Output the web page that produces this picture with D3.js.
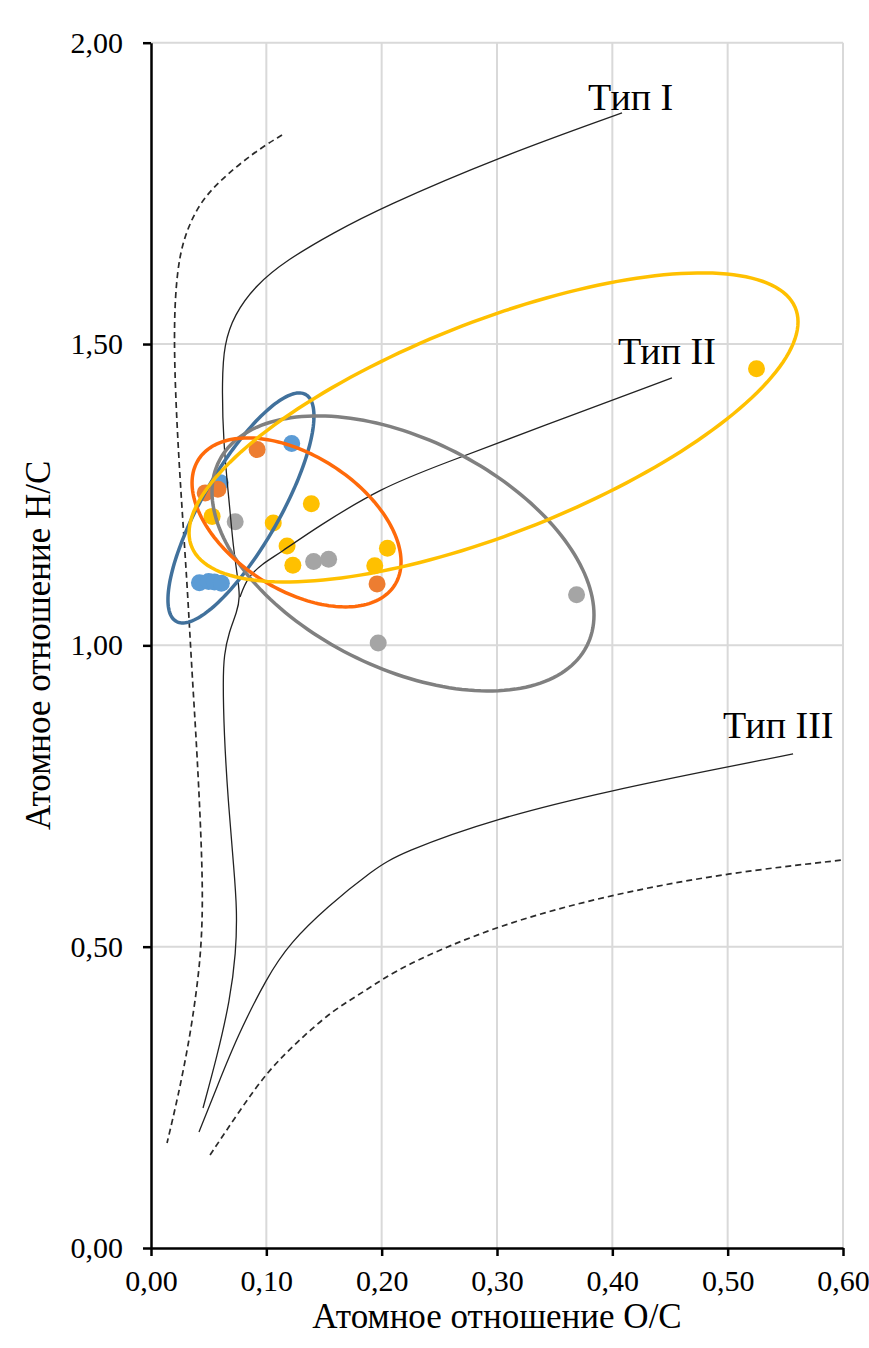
<!DOCTYPE html>
<html>
<head>
<meta charset="utf-8">
<script src="https://cdn.jsdelivr.net/npm/d3@7"></script>
<style>
  body { margin: 0; background: #fff; }
  text { font-family: "Liberation Serif", "Times New Roman", serif; fill: #000; }
</style>
</head>
<body>
<div id="chart"></div>
<script>
// axis ticks
var xTicks = [0, 0.1, 0.2, 0.3, 0.4, 0.5, 0.6];
var xTickLabels = ["0,00", "0,10", "0,20", "0,30", "0,40", "0,50", "0,60"];
var yTicks = [0, 0.5, 1, 1.5, 2];
var yTickLabels = ["0,00", "0,50", "1,00", "1,50", "2,00"];

// samples: O/C and H/C
var blueOC = [0.122, 0.060, 0.042, 0.050, 0.055, 0.061];
var blueHC = [1.335, 1.270, 1.104, 1.106, 1.105, 1.103];
var orangeOC = [0.092, 0.047, 0.058, 0.196];
var orangeHC = [1.325, 1.253, 1.259, 1.102];
var grayOC = [0.073, 0.141, 0.154, 0.197, 0.369];
var grayHC = [1.205, 1.139, 1.143, 1.004, 1.084];
var yellowOC = [0.053, 0.106, 0.118, 0.123, 0.139, 0.194, 0.205, 0.525];
var yellowHC = [1.214, 1.203, 1.165, 1.133, 1.235, 1.132, 1.161, 1.459];

// group ellipses: centre O/C, centre H/C, half width O/C, half height H/C, correlation
var blueEllipse = [0.0780, 1.2280, 0.0633, 0.1908, 0.798];
var grayEllipse = [0.2185, 1.1525, 0.1656, 0.2282, -0.447];
var orangeEllipse = [0.1262, 1.2040, 0.0906, 0.1402, -0.467];
var yellowEllipse = [0.2970, 1.3616, 0.2640, 0.2564, 0.683];

// kerogen evolution paths [O/C, H/C]
var typeI = [[0.0451,0.2323],[0.0572,0.3170],[0.0685,0.4116],[0.0737,0.4895],[0.0746,0.5609],
  [0.0720,0.6273],[0.0668,0.7435],[0.0633,0.8546],[0.0624,0.9426],[0.0633,0.9841],[0.0676,1.0222],
  [0.0746,1.0554],[0.0772,1.0803],[0.0754,1.1085],[0.0711,1.1666],[0.0685,1.2247],[0.0624,1.3409],
  [0.0616,1.4404],[0.0633,1.4985],[0.0720,1.5483],[0.0910,1.5981],[0.1179,1.6396],[0.1578,1.6844],
  [0.2012,1.7275],[0.3000,1.8088],[0.4084,1.8835]];
var typeII = [[0.0772,1.0803],[0.0832,1.1118],[0.0962,1.1351],[0.1119,1.1533],[0.1439,1.1965],
  [0.2012,1.2629],[0.2506,1.2994],[0.3373,1.3624],[0.4517,1.4437]];
var typeIII = [[0.0416,0.1925],[0.0572,0.2672],[0.0746,0.3501],[0.1006,0.4497],[0.1205,0.5061],
  [0.1526,0.5659],[0.1925,0.6273],[0.2159,0.6555],[0.3000,0.7136],[0.4006,0.7600],[0.4994,0.7982],
  [0.5567,0.8198]];
var boundLeft = [[0.1136,1.8470],[0.0884,1.8171],[0.0572,1.7673],[0.0399,1.7275],[0.0277,1.6727],
  [0.0225,1.6180],[0.0199,1.5400],[0.0208,1.4288],[0.0251,1.2745],[0.0312,1.1085],[0.0355,0.9542],
  [0.0399,0.8264],[0.0451,0.6157],[0.0442,0.5161],[0.0408,0.4447],[0.0338,0.3501],[0.0234,0.2506],
  [0.0139,0.1742]];
var boundRight = [[0.0512,0.1543],[0.0772,0.2290],[0.1006,0.2921],[0.1266,0.3419],[0.1578,0.3950],
  [0.1873,0.4281],[0.2159,0.4663],[0.3000,0.5360],[0.4006,0.5875],[0.4994,0.6223],[0.6000,0.6439]];

var svgWidth = 869;
var svgHeight = 1348;
var margin = { top: 42.7, right: 26, bottom: 100, left: 151 };
var width = svgWidth - margin.left - margin.right;
var height = svgHeight - margin.top - margin.bottom;

var svg = d3.select("#chart").append("svg")
  .attr("width", svgWidth)
  .attr("height", svgHeight);

var chartGroup = svg.append("g")
  .attr("transform", `translate(${margin.left}, ${margin.top})`);

var x = d3.scaleLinear().domain([0, 0.6]).range([0, width]);
var y = d3.scaleLinear().domain([0, 2]).range([height, 0]);

// grid
chartGroup.append("g").selectAll("line").data(xTicks.slice(1)).enter().append("line")
  .attr("x1", d => x(d)).attr("x2", d => x(d))
  .attr("y1", 0).attr("y2", height)
  .attr("stroke", "#d9d9d9").attr("stroke-width", 2);
chartGroup.append("g").selectAll("line").data(yTicks.slice(1)).enter().append("line")
  .attr("x1", 0).attr("x2", width)
  .attr("y1", d => y(d)).attr("y2", d => y(d))
  .attr("stroke", "#d9d9d9").attr("stroke-width", 2);

// points
function drawPoints(oc, hc, color) {
  chartGroup.append("g").selectAll("circle").data(d3.zip(oc, hc)).enter().append("circle")
    .attr("cx", d => x(d[0]))
    .attr("cy", d => y(d[1]))
    .attr("r", 8.5)
    .attr("fill", color);
}
drawPoints(blueOC, blueHC, "#5b9bd5");
drawPoints(orangeOC, orangeHC, "#ed7d31");
drawPoints(grayOC, grayHC, "#a5a5a5");
drawPoints(yellowOC, yellowHC, "#ffc000");

// curves
var curve = d3.line()
  .x(d => x(d[0]))
  .y(d => y(d[1]))
  .curve(d3.curveBasis);

[typeI, typeII, typeIII].forEach(function(p) {
  chartGroup.append("path").attr("d", curve(p))
    .attr("fill", "none").attr("stroke", "#222").attr("stroke-width", 1.3);
});
[boundLeft, boundRight].forEach(function(p) {
  chartGroup.append("path").attr("d", curve(p))
    .attr("fill", "none").attr("stroke", "#2a2a2a").attr("stroke-width", 1.7)
    .attr("stroke-dasharray", "6,4");
});

// ellipses
var ring = d3.line().x(d => x(d[0])).y(d => y(d[1])).curve(d3.curveLinearClosed);
function drawEllipse(e, color) {
  var pts = d3.range(0, 360, 2).map(function(a) {
    var t = a * Math.PI / 180;
    return [e[0] + e[2] * Math.cos(t),
            e[1] + e[3] * (e[4] * Math.cos(t) + Math.sqrt(1 - e[4] * e[4]) * Math.sin(t))];
  });
  chartGroup.append("path").attr("d", ring(pts))
    .attr("fill", "none").attr("stroke", color).attr("stroke-width", 3.5);
}
drawEllipse(blueEllipse, "#41719c");
drawEllipse(grayEllipse, "#808080");
drawEllipse(orangeEllipse, "#ff6a0a");
drawEllipse(yellowEllipse, "#ffc000");

// labels
chartGroup.append("text").attr("x", x(0.379)).attr("y", y(1.888)).attr("font-size", 38).text("Тип I");
chartGroup.append("text").attr("x", x(0.405)).attr("y", y(1.467)).attr("font-size", 38).text("Тип II");
chartGroup.append("text").attr("x", x(0.496)).attr("y", y(0.846)).attr("font-size", 38).text("Тип III");

// axes
var bottomAxis = d3.axisBottom(x).tickValues(xTicks)
  .tickFormat((d, i) => xTickLabels[i]).tickSizeInner(8).tickSizeOuter(0).tickPadding(14);
var leftAxis = d3.axisLeft(y).tickValues(yTicks)
  .tickFormat((d, i) => yTickLabels[i]).tickSizeInner(8).tickSizeOuter(0).tickPadding(20);

var gx = chartGroup.append("g").attr("transform", `translate(0, ${height})`).call(bottomAxis);
var gy = chartGroup.append("g").call(leftAxis);
[gx, gy].forEach(function(g) {
  g.selectAll("path, line").attr("stroke", "#000").attr("stroke-width", 2.5);
  g.selectAll("text").attr("font-size", 30).attr("font-family", "Liberation Serif, serif").attr("fill", "#000");
});

// axis titles
chartGroup.append("text")
  .attr("transform", `translate(${width / 2}, ${height + 80})`)
  .attr("text-anchor", "middle").attr("font-size", 35)
  .text("Атомное отношение O/C");
chartGroup.append("text")
  .attr("transform", `translate(${50 - margin.left}, ${height / 2}) rotate(-90)`)
  .attr("text-anchor", "middle").attr("font-size", 35)
  .text("Атомное отношение H/C");
</script>
</body>
</html>
